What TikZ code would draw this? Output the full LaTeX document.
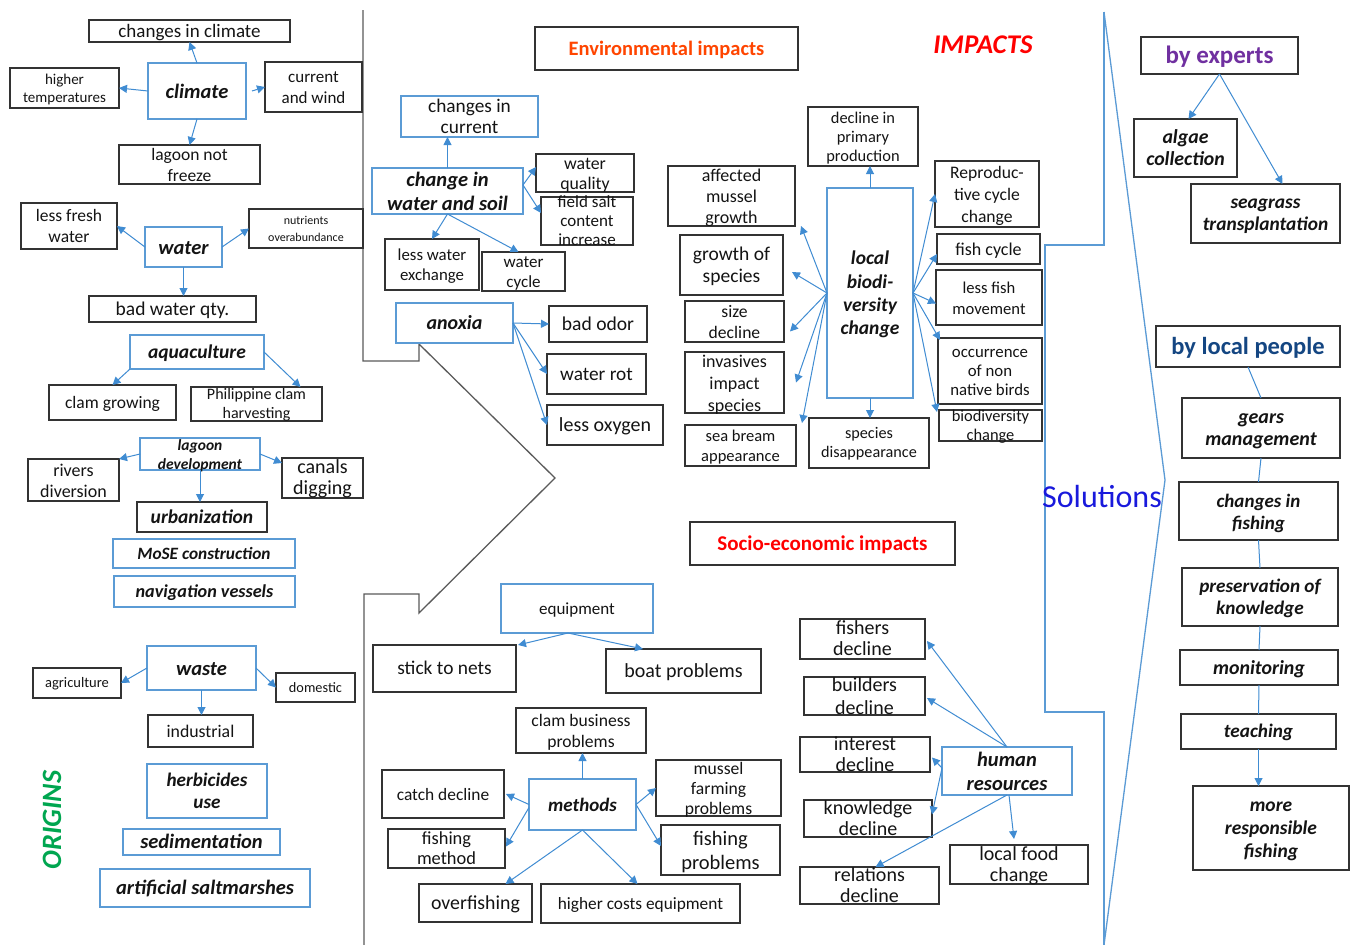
\documentclass[tikz,border=0pt]{standalone}
\usepackage{fontspec}
\setmainfont{Carlito}
\usetikzlibrary{arrows.meta,calc}
\definecolor{bl}{RGB}{91,155,213}
\definecolor{arc}{RGB}{64,140,210}
\definecolor{envc}{RGB}{255,69,0}
\definecolor{purp}{RGB}{112,48,160}
\definecolor{dblue}{RGB}{20,70,130}
\definecolor{solc}{RGB}{25,25,220}
\definecolor{grn}{RGB}{0,166,80}
\definecolor{gln}{RGB}{90,90,90}
\newcommand\fsz[2]{\fontsize{#1}{#2}\selectfont}
\newcommand\BIf{\bfseries\itshape}
\newcommand\mybox[7]{\node[#1, minimum width={#5-#3}, minimum height={#6-#4}] (#2) at ({(#3+#5)/2},{(#4+#6)/2}) {\makebox[0pt]{\smash{\raisebox{-.37em}{\begin{tabular}{@{}c@{}}#7\end{tabular}}}}};}
\tikzset{
  base/.style={rectangle, inner sep=0pt, outer sep=0pt, line width=1.3pt, text=black!92},
  bx/.style={base, draw=black!80},
  bb/.style={base, draw=bl},
  ar/.style={draw=arc, line width=1pt, -{Triangle[length=8pt,width=8pt]}},
  ln/.style={draw=arc, line width=1pt},
  gline/.style={draw=gln, line width=1.3pt},
  bline/.style={draw=bl, line width=1.3pt},
}
\begin{document}
\begin{tikzpicture}[x=1pt,y=-1pt]
\useasboundingbox[fill=white] (0,0) rectangle (1353,945);
% dividers
\draw[gline] (363,10) -- (363,361) -- (419,361) -- (419,344) -- (555,478) -- (419,613) -- (419,594) -- (364,594) -- (364,945);
\draw[bline] (1104,12) -- (1104,245) -- (1045,245) -- (1045,712) -- (1104,712) -- (1104,945);
\draw[bline] (1104,12) -- (1165,480) -- (1104,945);
% titles
\node[font=\BIf\fsz{27}{30}, text=red] (imp) at (983,45) {IMPACTS};
\node[rotate=90, font=\BIf\fsz{28}{32}, text=grn] (orig) at (52,820) {ORIGINS};
\node[font=\fsz{32}{36}, text=solc] (sol) at (1102,497) {Solutions};
% ORIGINS column
\mybox{bx,font=\fsz{19}{21}}{cic}{89}{20}{290}{42}{changes in climate}
\mybox{bb,font=\BIf\fsz{20.5}{24}}{clim}{148}{63}{246}{119}{climate}
\mybox{bx,font=\fsz{15}{17.5}}{ht}{10}{68}{119}{108}{higher\\temperatures}
\mybox{bx,font=\fsz{17}{21}}{cw}{265}{62}{362}{112}{current\\and wind}
\mybox{bx,font=\fsz{17.5}{21}}{lnf}{119}{145}{260}{184}{lagoon not\\freeze}
\mybox{bx,font=\fsz{17.5}{21}}{lfw}{21}{203}{117}{249}{less fresh\\water}
\mybox{bb,font=\BIf\fsz{20.5}{24}}{wat}{145}{227}{222}{267}{water}
\mybox{bx,font=\fsz{12}{17}}{nut}{249}{209}{363}{248}{nutrients\\overabundance}
\mybox{bx,font=\fsz{19.5}{21}}{bwq}{89}{296}{256}{322}{bad water qty.}
\mybox{bb,font=\BIf\fsz{19.5}{21}}{aq}{130}{335}{264}{369}{aquaculture}
\mybox{bx,font=\fsz{17.5}{20}}{cg}{49}{385}{176}{420}{clam growing}
\mybox{bx,font=\fsz{16}{19}}{ph}{191}{387}{322}{421}{Philippine clam\\harvesting}
\mybox{bb,font=\BIf\fsz{15.5}{19}}{ld}{140}{438}{260}{470}{lagoon\\development}
\mybox{bx,font=\fsz{18}{21}}{rd}{28}{459}{119}{501}{rivers\\diversion}
\mybox{bx,font=\fsz{20}{21}}{cd}{282}{458}{363}{498}{canals\\digging}
\mybox{bx,font=\BIf\fsz{19.5}{22}}{urb}{137}{502}{267}{532}{urbanization}
\mybox{bb,font=\BIf\fsz{17.3}{20}}{mose}{113}{539}{295}{568}{MoSE construction}
\mybox{bb,font=\BIf\fsz{18.2}{20}}{nv}{114}{576}{295}{607}{navigation vessels}
\mybox{bb,font=\BIf\fsz{20.5}{24}}{was}{147}{646}{256}{690}{waste}
\mybox{bx,font=\fsz{14.5}{16}}{agr}{33}{668}{121}{698}{agriculture}
\mybox{bx,font=\fsz{14.3}{16}}{dom}{276}{673}{355}{702}{domestic}
\mybox{bx,font=\fsz{17.8}{20}}{ind}{148}{715}{253}{747}{industrial}
\mybox{bb,font=\BIf\fsz{19.2}{22}}{herb}{147}{764}{267}{818}{herbicides\\use}
\mybox{bb,font=\BIf\fsz{20.5}{22}}{sed}{123}{829}{280}{855}{sedimentation}
\mybox{bb,font=\BIf\fsz{20.5}{22}}{asm}{100}{869}{310}{907}{artificial saltmarshes}
% environmental impacts
\mybox{bx,font=\bfseries\fsz{20.5}{22},text=envc}{env}{535}{27}{798}{70}{Environmental impacts}
\mybox{bb,font=\fsz{19.3}{21}}{cc}{401}{96}{538}{137}{changes in\\current}
\mybox{bb,font=\BIf\fsz{20.5}{24}}{cws}{372}{168}{523}{214}{change in\\water and soil}
\mybox{bx,font=\fsz{17.8}{20}}{wq}{536}{154}{634}{192}{water\\quality}
\mybox{bx,font=\fsz{17}{19}}{fs}{541}{197}{633}{245}{field salt\\content\\increase}
\mybox{bx,font=\fsz{16.8}{20}}{lwe}{385}{239}{479}{290}{less water\\exchange}
\mybox{bx,font=\fsz{17}{20}}{wc}{482}{252}{565}{291}{water\\cycle}
\mybox{bb,font=\BIf\fsz{20}{22}}{anox}{396}{303}{513}{343}{anoxia}
\mybox{bx,font=\fsz{19.6}{22}}{bo}{549}{306}{647}{342}{bad odor}
\mybox{bx,font=\fsz{19.3}{22}}{wr}{547}{354}{646}{394}{water rot}
\mybox{bx,font=\fsz{20}{22}}{lo}{547}{405}{663}{445}{less oxygen}
\mybox{bb,font=\BIf\fsz{19.5}{23.3}}{lbc}{827}{188}{913}{398}{local\\biodi-\\versity\\change}
\mybox{bx,font=\fsz{16.4}{19}}{dpp}{808}{107}{918}{166}{decline in\\primary\\production}
\mybox{bx,font=\fsz{18}{21}}{ams}{668}{166}{795}{226}{affected\\mussel\\growth}
\mybox{bx,font=\fsz{19.5}{22}}{gos}{680}{235}{783}{295}{growth of\\species}
\mybox{bx,font=\fsz{17.6}{21}}{sd}{685}{301}{784}{342}{size\\decline}
\mybox{bx,font=\fsz{18}{22}}{inv}{685}{352}{784}{413}{invasives\\impact\\species}
\mybox{bx,font=\fsz{16.5}{20}}{sba}{685}{425}{796}{466}{sea bream\\appearance}
\mybox{bx,font=\fsz{16.2}{19}}{spd}{809}{418}{929}{468}{species\\disappearance}
\mybox{bx,font=\fsz{17.6}{22}}{rep}{935}{161}{1039}{227}{Reproduc-\\tive cycle\\change}
\mybox{bx,font=\fsz{18}{20}}{fc}{937}{234}{1040}{264}{fish cycle}
\mybox{bx,font=\fsz{16.6}{21}}{lfm}{936}{270}{1042}{325}{less fish\\movement}
\mybox{bx,font=\fsz{16.8}{19}}{occ}{938}{338}{1042}{404}{occurrence\\of non\\native birds}
\mybox{bx,font=\fsz{16.4}{19}}{bdc}{939}{410}{1042}{441}{biodiversity\\change}
% socio-economic impacts
\mybox{bx,font=\bfseries\fsz{21}{22},text=red}{soc}{690}{522}{955}{565}{Socio-economic impacts}
\mybox{bb,font=\fsz{17}{20}}{eq}{501}{584}{653}{633}{equipment}
\mybox{bx,font=\fsz{19.4}{20}}{stn}{373}{645}{516}{692}{stick to nets}
\mybox{bx,font=\fsz{20}{22}}{bp}{606}{649}{761}{693}{boat problems}
\mybox{bx,font=\fsz{17.6}{21}}{cbp}{516}{708}{646}{753}{clam business\\problems}
\mybox{bx,font=\fsz{17.4}{20}}{cat}{382}{770}{504}{818}{catch decline}
\mybox{bb,font=\BIf\fsz{19}{22}}{meth}{529}{779}{636}{830}{methods}
\mybox{bx,font=\fsz{17.6}{20}}{mfp}{656}{760}{781}{816}{mussel\\farming\\problems}
\mybox{bx,font=\fsz{18.4}{20}}{fm}{388}{829}{505}{868}{fishing\\method}
\mybox{bx,font=\fsz{20.5}{24}}{fp}{661}{825}{780}{875}{fishing\\problems}
\mybox{bx,font=\fsz{19.8}{22}}{of}{419}{884}{532}{922}{overfishing}
\mybox{bx,font=\fsz{17.3}{20}}{hce}{541}{884}{740}{923}{higher costs equipment}
\mybox{bb,font=\BIf\fsz{20.5}{24}}{hr}{942}{747}{1072}{795}{human\\resources}
\mybox{bx,font=\fsz{20}{21}}{fd}{800}{619}{925}{659}{fishers\\decline}
\mybox{bx,font=\fsz{20}{23}}{bd}{804}{677}{925}{715}{builders\\decline}
\mybox{bx,font=\fsz{20}{21}}{intd}{800}{737}{930}{772}{interest\\decline}
\mybox{bx,font=\fsz{20}{21}}{kd}{804}{800}{932}{837}{knowledge\\decline}
\mybox{bx,font=\fsz{20}{21}}{reld}{800}{867}{939}{904}{relations\\decline}
\mybox{bx,font=\fsz{20}{21}}{lfc}{950}{845}{1088}{884}{local food\\change}
% solutions
\mybox{bx,font=\bfseries\fsz{25}{27},text=purp}{bye}{1141}{37}{1298}{74}{by experts}
\mybox{bx,font=\BIf\fsz{19.8}{22}}{alg}{1134}{119}{1237}{177}{algae\\collection}
\mybox{bx,font=\BIf\fsz{19.4}{22}}{sea}{1191}{184}{1340}{243}{seagrass\\transplantation}
\mybox{bx,font=\bfseries\fsz{24.5}{28},text=dblue}{blp}{1156}{326}{1340}{367}{by local people}
\mybox{bx,font=\BIf\fsz{20}{22}}{gm}{1182}{398}{1340}{458}{gears\\management}
\mybox{bx,font=\BIf\fsz{19}{22}}{cif}{1179}{482}{1338}{540}{changes in\\fishing}
\mybox{bx,font=\BIf\fsz{19.2}{22}}{pok}{1182}{568}{1338}{626}{preservation of\\knowledge}
\mybox{bx,font=\BIf\fsz{19.9}{22}}{mon}{1180}{650}{1338}{685}{monitoring}
\mybox{bx,font=\BIf\fsz{19.2}{22}}{tea}{1181}{714}{1336}{749}{teaching}
\mybox{bx,font=\BIf\fsz{19.5}{23}}{mrf}{1193}{786}{1349}{870}{more\\responsible\\fishing}
% arrows: origins
\draw[ar] (clim.north) -- (cic.south);
\draw[ar] (clim.west) -- (ht.east);
\draw[ar] ($(clim.east)+(6,0)$) -- (cw.west);
\draw[ar] (clim.south) -- (lnf.north);
\draw[ar] (wat.west) -- (lfw.east);
\draw[ar] (wat.east) -- (nut.west);
\draw[ar] (wat.south) -- (wat.south |- bwq.north);
\draw[ar] (aq.south west) -- (cg.north);
\draw[ar] (aq.east) -- ($(ph.north)+(44,0)$);
\draw[ar] (ld.west) -- (rd.north east);
\draw[ar] (ld.east) -- ($(cd.north west)+(0,5)$);
\draw[ar] (ld.south) -- (ld.south |- urb.north);
\draw[ar] (was.west) -- (agr.east);
\draw[ar] (was.east) -- (dom.west);
\draw[ar] (was.south) -- (was.south |- ind.north);
% arrows: environmental
\draw[ar] (cws.north) -- (cws.north |- cc.south);
\draw[ar] ($(cws.east)+(0,-6)$) -- ($(wq.west)+(0,-6)$);
\draw[ar] ($(cws.east)+(0,-6)$) -- ($(fs.west)+(0,-8)$);
\draw[ar] (cws.south) -- (lwe.north);
\draw[ar] (cws.south) -- ($(wc.north)+(-5,0)$);
\draw[ar] (anox.east) -- (bo.west);
\draw[ar] (anox.east) -- (wr.west);
\draw[ar] (anox.east) -- (lo.west);
\draw[ar] (lbc.north) -- (lbc.north |- dpp.south);
\draw[ar] (lbc.south) -- (lbc.south |- spd.north);
\draw[ar] (lbc.west) -- ($(ams.south east)+(6,0)$);
\draw[ar] (lbc.west) -- ($(gos.east)+(9,7)$);
\draw[ar] (lbc.west) -- ($(sd.east)+(6,10)$);
\draw[ar] (lbc.west) -- ($(inv.east)+(12,0)$);
\draw[ar] (lbc.west) -- ($(sba.north east)+(6,-2)$);
\draw[ar] (lbc.east) -- (rep.west);
\draw[ar] (lbc.east) -- ($(fc.west)+(0,5)$);
\draw[ar] (lbc.east) -- ($(lfm.west)+(0,6)$);
\draw[ar] (lbc.east) -- ($(occ.north west)+(2,2)$);
\draw[ar] (lbc.east) -- ($(bdc.north west)+(-2,2)$);
% arrows: socio-economic
\draw[ar] ($(eq.south)+(-9,0)$) -- ($(stn.north east)+(2,0)$);
\draw[ar] ($(eq.south)+(-9,0)$) -- ($(bp.north west)+(37,0)$);
\draw[ar] (meth.north) -- (meth.north |- cbp.south);
\draw[ar] (meth.west) -- ($(cat.east)+(2,0)$);
\draw[ar] ($(meth.west)+(0,3)$) -- ($(fm.east)+(1,-2)$);
\draw[ar] (meth.east) -- (mfp.west);
\draw[ar] (meth.east) -- ($(fp.west)+(0,-4)$);
\draw[ar] (meth.south) -- ($(of.north)+(30,0)$);
\draw[ar] (meth.south) -- ($(hce.north)+(-3,0)$);
\draw[ar] (hr.north) -- ($(fd.east)+(2,2)$);
\draw[ar] (hr.north) -- ($(bd.east)+(2,2)$);
\draw[ar] ($(hr.west)+(0,-3)$) -- ($(intd.east)+(2,3)$);
\draw[ar] ($(hr.west)+(0,-3)$) -- ($(kd.east)+(0,-4)$);
\draw[ar] (hr.south) -- ($(reld.north)+(6,0)$);
\draw[ar] ($(hr.south)+(2,0)$) -- ($(lfc.north)+(-5,-6)$);
% arrows: solutions
\draw[ar] (bye.south) -- ($(alg.north)+(3,0)$);
\draw[ar] (bye.south) -- ($(sea.north)+(17,0)$);
\draw[ln] (blp.south) -- (gm.north);
\draw[ln] (gm.south) -- (cif.north);
\draw[ln] (cif.south) -- (pok.north);
\draw[ln] (pok.south) -- (mon.north);
\draw[ln] (mon.south) -- (tea.north);
\draw[ar] (tea.south) -- (tea.south |- mrf.north);
\end{tikzpicture}
\end{document}
